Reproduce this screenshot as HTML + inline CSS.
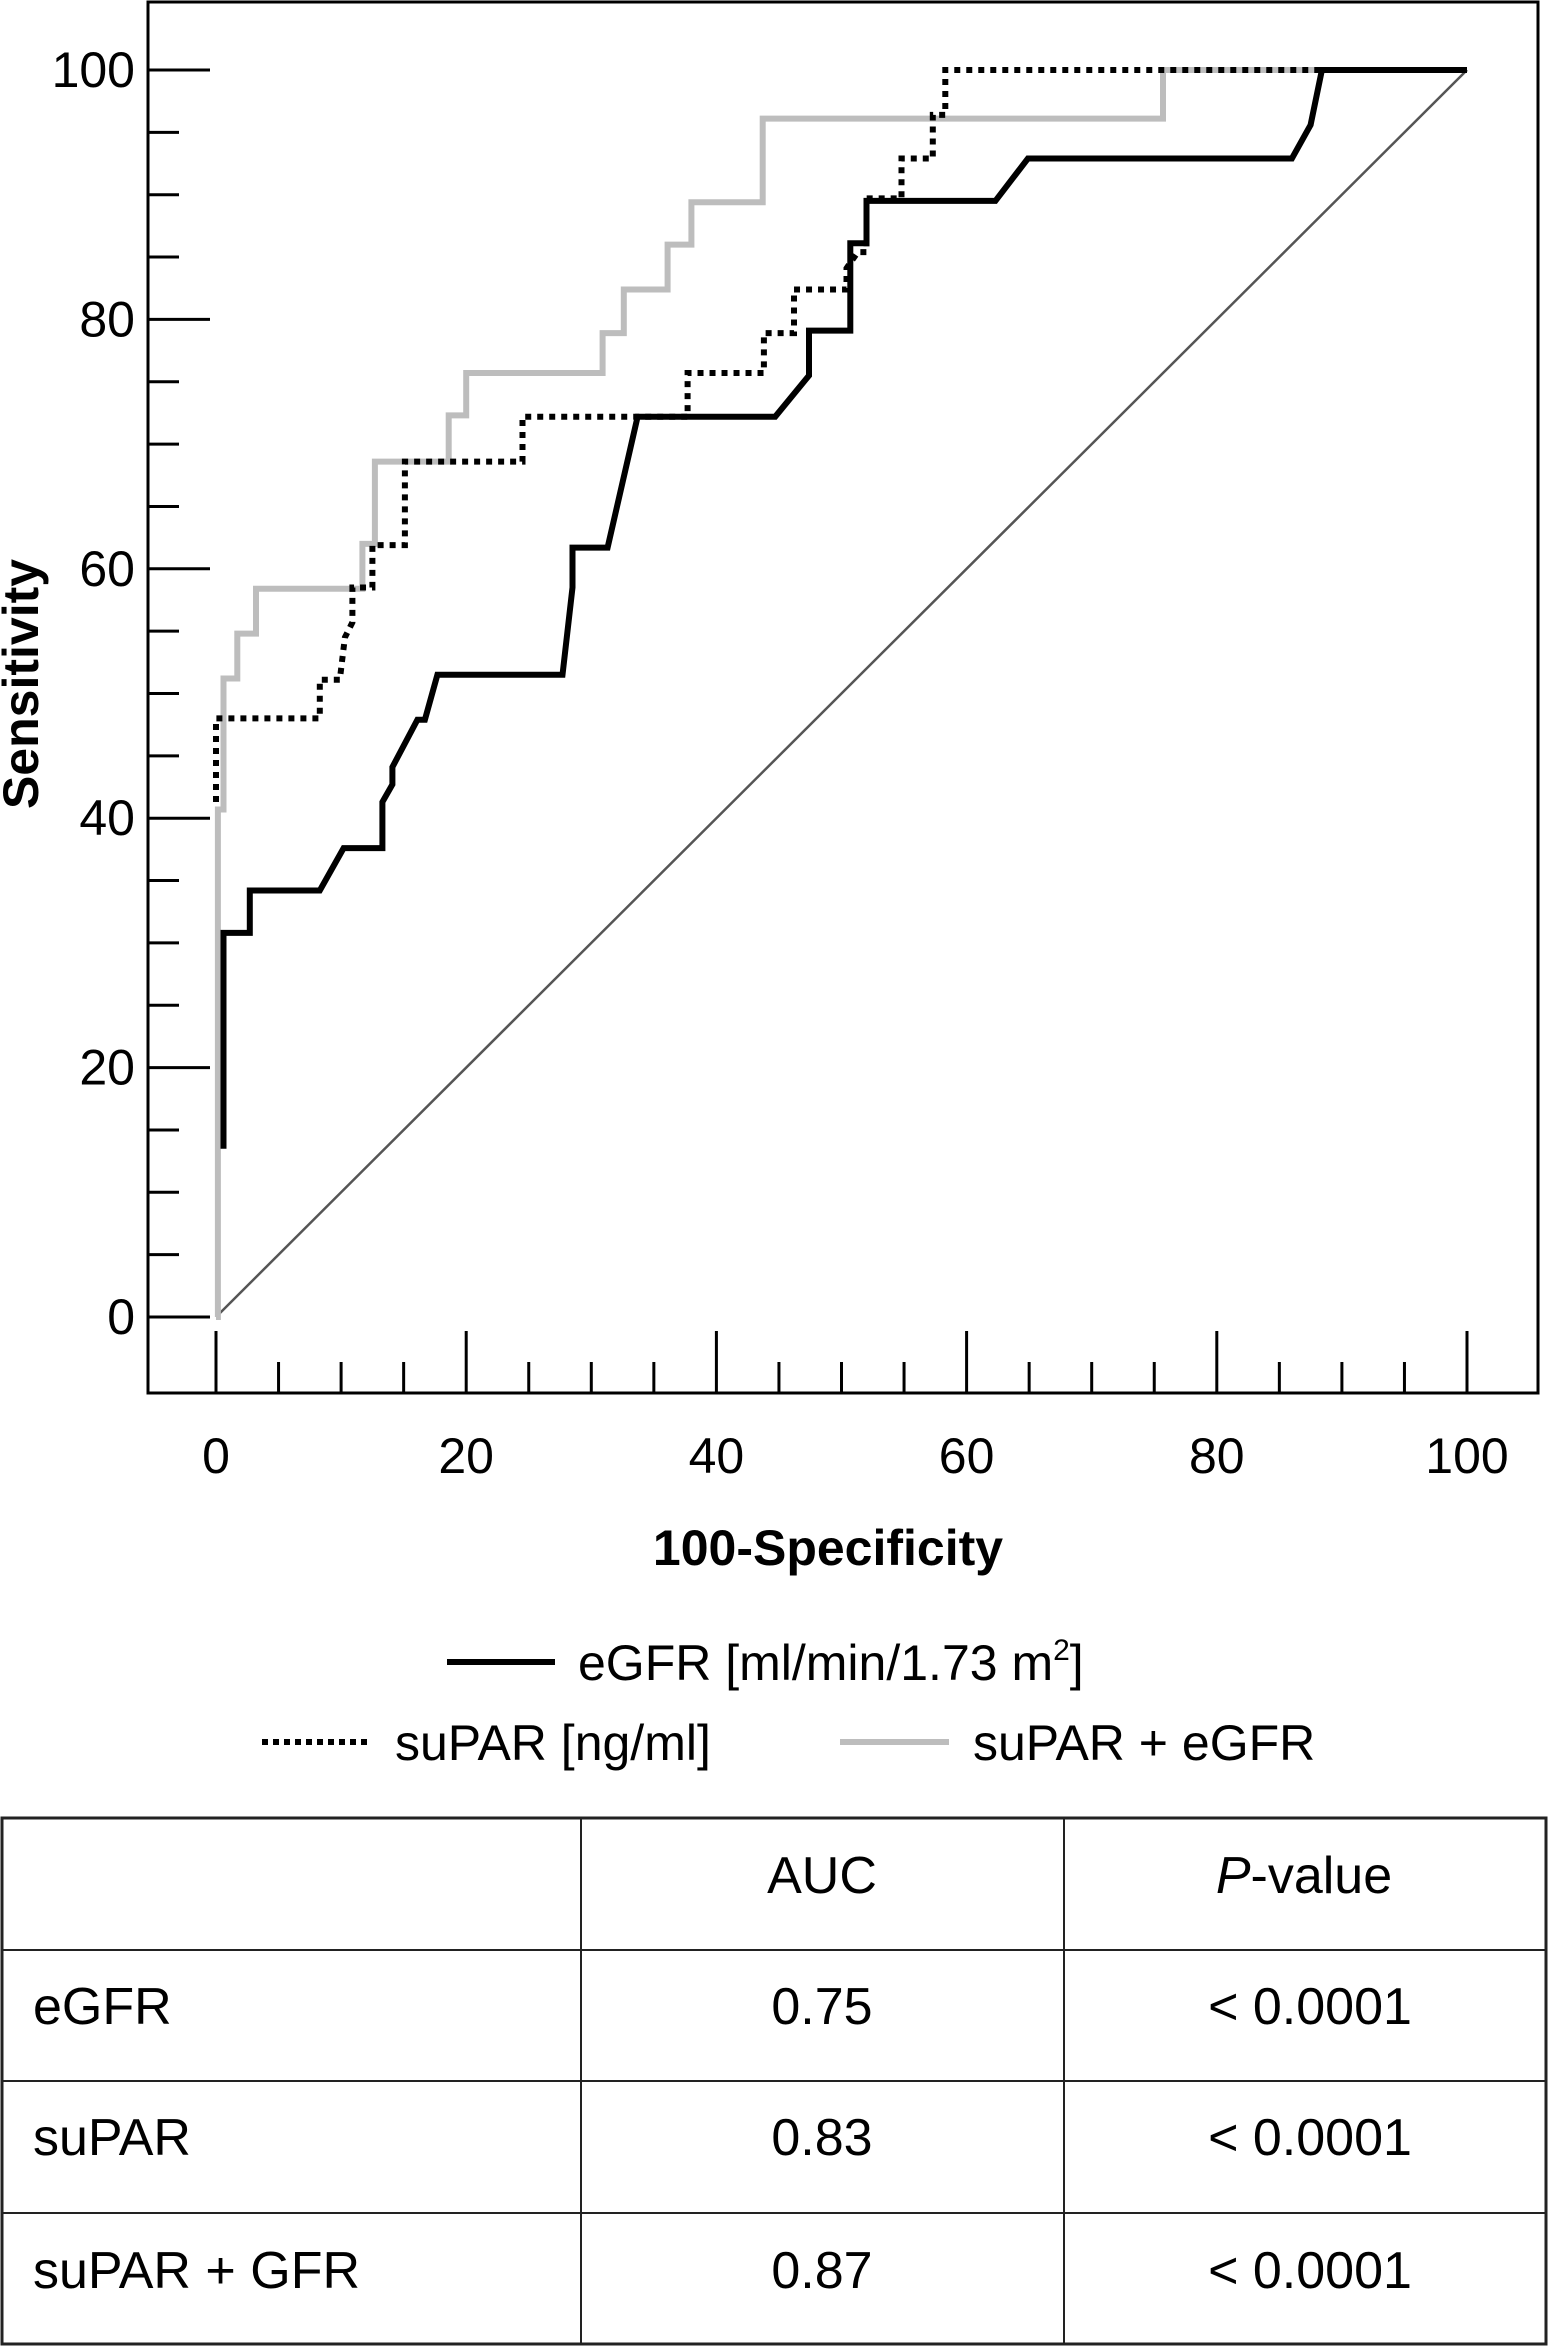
<!DOCTYPE html>
<html><head><meta charset="utf-8"><style>
html,body{margin:0;padding:0;background:#fff;}
svg{display:block;font-family:"Liberation Sans",sans-serif;}
</style></head><body>
<svg id="chart" width="1550" height="2347" viewBox="0 0 1550 2347" xmlns="http://www.w3.org/2000/svg">
<rect x="148" y="2" width="1390" height="1391" fill="none" stroke="#000" stroke-width="3"/>
<g id="axes"></g>
<g id="series"></g>
<text x="828" y="1565" font-size="50" font-weight="bold" text-anchor="middle">100-Specificity</text>
<text transform="translate(38,684) rotate(-90)" font-size="50" font-weight="bold" text-anchor="middle">Sensitivity</text>
<g>
<line x1="447" y1="1662" x2="555" y2="1662" stroke="#000" stroke-width="6"/>
<text x="578" y="1680" font-size="50">eGFR [ml/min/1.73 m<tspan font-size="30" dy="-20">2</tspan><tspan dy="20">]</tspan></text>
<line x1="262" y1="1742" x2="371" y2="1742" stroke="#000" stroke-width="6" stroke-dasharray="6 5"/>
<text x="395" y="1760" font-size="50">suPAR [ng/ml]</text>
<line x1="840" y1="1742" x2="949" y2="1742" stroke="#bdbdbd" stroke-width="6"/>
<text x="973" y="1760" font-size="50">suPAR + eGFR</text>
</g>
<g font-size="52">
<rect x="2" y="1818" width="1544" height="526" fill="none" stroke="#222" stroke-width="3"/>
<line x1="2" y1="1950" x2="1546" y2="1950" stroke="#222" stroke-width="2"/>
<line x1="2" y1="2081" x2="1546" y2="2081" stroke="#222" stroke-width="2"/>
<line x1="2" y1="2213" x2="1546" y2="2213" stroke="#222" stroke-width="2"/>
<line x1="581" y1="1818" x2="581" y2="2344" stroke="#222" stroke-width="2"/>
<line x1="1064" y1="1818" x2="1064" y2="2344" stroke="#222" stroke-width="2"/>
<text x="822" y="1893" text-anchor="middle">AUC</text>
<text x="1304" y="1893" text-anchor="middle"><tspan font-style="italic">P</tspan>-value</text>
<text x="33" y="2024">eGFR</text>
<text x="822" y="2024" text-anchor="middle">0.75</text>
<text x="1310" y="2024" text-anchor="middle">&lt; 0.0001</text>
<text x="33" y="2155">suPAR</text>
<text x="822" y="2155" text-anchor="middle">0.83</text>
<text x="1310" y="2155" text-anchor="middle">&lt; 0.0001</text>
<text x="33" y="2288">suPAR + GFR</text>
<text x="822" y="2288" text-anchor="middle">0.87</text>
<text x="1310" y="2288" text-anchor="middle">&lt; 0.0001</text>
</g>
</svg>
<script>
const xTickLabels = [0, 20, 40, 60, 80, 100];
const yTickLabels = [0, 20, 40, 60, 80, 100];
const egfrX = [0.6,0.6,2.7,2.7,8.3,10.2,13.3,13.3,14.1,14.1,16.1,16.7,17.7,27.7,28.5,28.5,31.3,33.7,44.7,47.4,47.4,50.7,50.7,52.0,52.0,62.3,64.9,86.0,87.5,88.4,100];
const egfrY = [13.5,30.8,30.8,34.2,34.2,37.6,37.6,41.3,42.7,44.1,47.9,47.9,51.5,51.5,58.5,61.7,61.7,72.2,72.2,75.5,79.1,79.1,86.1,86.1,89.5,89.5,92.9,92.9,95.6,100,100];
const suparX = [0,0,8.3,8.3,9.9,10.3,10.9,10.9,12.5,12.5,15.1,15.1,24.5,24.5,37.7,37.7,43.8,43.8,46.2,46.2,50.4,50.4,51.3,52.0,52.0,54.8,54.8,57.3,57.3,58.3,58.3,100];
const suparY = [41.3,48.0,48.0,51.1,51.1,54.5,55.7,58.5,58.5,61.9,61.9,68.6,68.6,72.2,72.2,75.7,75.7,78.9,78.9,82.4,82.4,84.1,85.4,85.4,89.7,89.7,92.9,92.9,96.4,96.4,100,100];
const comboX = [0,0.15,0.15,0.6,0.6,1.7,1.7,3.2,3.2,11.7,11.7,12.7,12.7,18.6,18.6,20.0,20.0,30.9,30.9,32.6,32.6,36.1,36.1,38.0,38.0,43.7,43.7,75.7,75.7,100];
const comboY = [0,0,40.7,40.7,51.2,51.2,54.8,54.8,58.4,58.4,62.0,62.0,68.6,68.6,72.3,72.3,75.7,75.7,78.9,78.9,82.4,82.4,86.0,86.0,89.4,89.4,96.1,96.1,100,100];
const refX = [0, 100];
const refY = [0, 100];

const NS = 'http://www.w3.org/2000/svg';
const X0 = 216, X1 = 1467, Y0 = 1317, Y1 = 70;
function sx(v){ return X0 + (X1 - X0) * v / 100; }
function sy(v){ return Y0 + (Y1 - Y0) * v / 100; }
const axes = document.getElementById('axes');
const series = document.getElementById('series');
function mk(tag, attrs, parent){
  const e = document.createElementNS(NS, tag);
  for (const k in attrs) e.setAttribute(k, attrs[k]);
  parent.appendChild(e);
  return e;
}
for (let v = 0; v <= 100; v += 5) {
  const major = v % 20 === 0;
  const t = mk('line', {x1:148, x2: major ? 210 : 179, y1: sy(v), y2: sy(v), stroke:'#000', 'stroke-width':3}, axes);
  
  
}
yTickLabels.forEach(v => {
  const t = mk('text', {x:135, y: sy(v) + 17, 'font-size':50, 'text-anchor':'end'}, axes);
  t.textContent = v;
  
  
});
for (let v = 0; v <= 100; v += 5) {
  const major = v % 20 === 0;
  const t = mk('line', {x1: sx(v), x2: sx(v), y1: major ? 1331 : 1362, y2: 1393, stroke:'#000', 'stroke-width':3}, axes);
  
  
}
xTickLabels.forEach(v => {
  const t = mk('text', {x: sx(v), y:1473, 'font-size':50, 'text-anchor':'middle'}, axes);
  t.textContent = v;
  
  
});
function pts(xs, ys){ return xs.map((x,i)=> sx(x).toFixed(1)+','+sy(ys[i]).toFixed(1)).join(' '); }
const ref = mk('polyline', {points: pts(refX, refY), fill:'none', stroke:'#555', 'stroke-width':2.5}, series);


const c = mk('polyline', {points: pts(comboX, comboY), fill:'none', stroke:'#bdbdbd', 'stroke-width':6, 'stroke-linejoin':'miter'}, series);


const s = mk('polyline', {points: pts(suparX, suparY), fill:'none', stroke:'#000', 'stroke-width':6, 'stroke-dasharray':'6 6'}, series);


const g = mk('polyline', {points: pts(egfrX, egfrY), fill:'none', stroke:'#000', 'stroke-width':6, 'stroke-linejoin':'miter'}, series);


</script>
</body></html>
